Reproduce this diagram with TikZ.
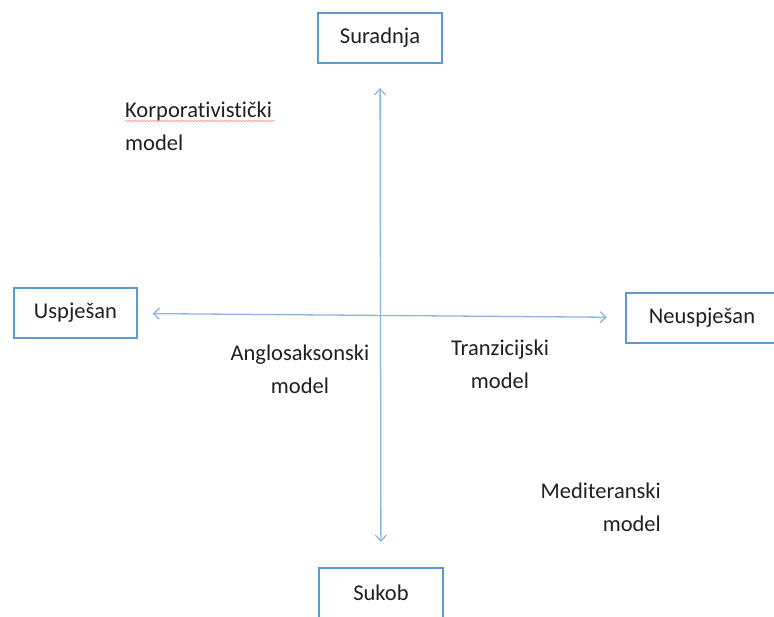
\documentclass[tikz,border=0pt]{standalone}
\usepackage{fontspec}
\setmainfont{Carlito}[Ligatures=NoCommon]
\usetikzlibrary{arrows.meta, decorations.pathmorphing}

\definecolor{boxblue}{HTML}{5B9BD5}
\definecolor{axisblue}{HTML}{8EB4E3}
\definecolor{txtgray}{HTML}{202020}

\begin{document}
\begin{tikzpicture}[x=1pt, y=-1pt, font=\fontsize{22.5}{33}\selectfont, text=txtgray,
          polebox/.style={rectangle, draw=boxblue, line width=2pt, fill=white, minimum width=124pt, minimum height=50pt, inner sep=0pt},
          modellabel/.style={inner sep=0pt, align=center},
          axis/.style={{Straight Barb[length=6pt, width=11pt]}-{Straight Barb[length=6pt, width=11pt]}, line width=1.3pt, color=axisblue}]
        \clip (0,0) rectangle (774,616);

        \node [polebox] (sur) at (380,38) {Suradnja};
        \node [polebox, minimum width=123pt] (usp) at (75.5,313) {Uspješan};
        \node [polebox, minimum width=152pt] (neusp) at (702,318) {Neuspješan};
        \node [polebox] (sukob) at (381,593) {Sukob};

        \draw [axis, shorten <=14.5pt, shorten >=18pt] (usp) -- (neusp);
        \draw [axis, shorten <=24pt, shorten >=25pt] (sur) -- (sukob);

        \node [modellabel, align=left, anchor=west] (korp) at (125,126) {Korporativistički\\model};
        \node [modellabel] (anglo) at (300,369) {Anglosaksonski\\model};
        \node [modellabel] (tranz) at (500,364) {Tranzicijski\\model};
        \node [modellabel, align=right, anchor=east] (medit) at (661,507) {Mediteranski\\model};

        % spelling mark under the first label
        \draw [red!45, line width=0.6pt, decorate, decoration={snake, amplitude=0.6pt, segment length=3pt}] (125,121) -- (275,121);
      \end{tikzpicture}
\end{document}
